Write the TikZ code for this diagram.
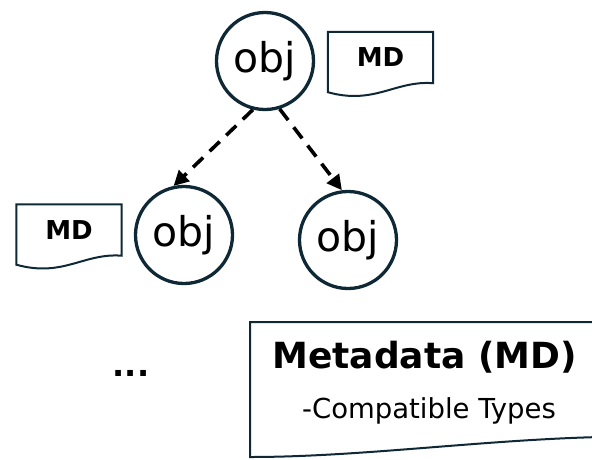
\documentclass[tikz,border=0pt]{standalone}
\usepackage{fontspec}
\setmainfont{DejaVu Sans}
\usetikzlibrary{arrows.meta, calc}
\definecolor{objline}{RGB}{14,40,54}
\tikzset{
    objnode/.style={circle, draw=objline, line width=3.3pt, minimum size=97pt, inner sep=0pt, font=\fontsize{41}{48}\selectfont},
    docnode/.style={minimum width=105pt, minimum height=51pt, inner sep=0pt, font=\bfseries\fontsize{26}{30}\selectfont},
    docline/.style={draw=objline, line width=2pt, line join=miter},
    link/.style={draw=black, line width=3.6pt, dash pattern=on 14pt off 9pt, -{Triangle[length=15pt,width=15pt]}}
}

\begin{document}
\begin{tikzpicture}[x=1pt, y=-1pt]
    \useasboundingbox (0,0) rectangle (592,459);

    % object tree
    \node[objnode] (top) at (265,61) {obj};
    \node[objnode] (left) at (184,235) {obj};
    \node[objnode] (right) at (348,240) {obj};
    \draw[link] (top.256) -- (left.102);
    \draw[link] (top.287) -- (right.97);

    % attached metadata
    \node[docnode] (mdtop) at (380.5,57.5) {MD};
    \draw[docline] (mdtop.north west) -- (mdtop.north east) -- (mdtop.south east)
        .. controls +(-38,-3) and +(47,13) .. ($(mdtop.south west)+(0,9)$) -- cycle;
    \node[docnode] (mdleft) at (69,230) {MD};
    \draw[docline] (mdleft.north west) -- (mdleft.north east) -- (mdleft.south east)
        .. controls +(-38,-3) and +(47,13) .. ($(mdleft.south west)+(0,9)$) -- cycle;

    \node[font=\bfseries\fontsize{32}{40}\selectfont, anchor=base] (more) at (131,376) {...};

    % legend
    \begin{scope}
        \clip (0,0) rectangle (592,459);
        \draw[docline] (250,322) -- (640,322) -- (640,437) -- (600,437)
            .. controls (480,440) and (360,457) .. (250,457) -- cycle;
    \end{scope}
    \node[font=\bfseries\fontsize{36}{40}\selectfont, anchor=base] (metatitle) at (424.5,368) {Metadata (MD)};
    \node[font=\fontsize{27.5}{32}\selectfont, anchor=base] (metatypes) at (429,418) {-Compatible Types};
\end{tikzpicture}
\end{document}
